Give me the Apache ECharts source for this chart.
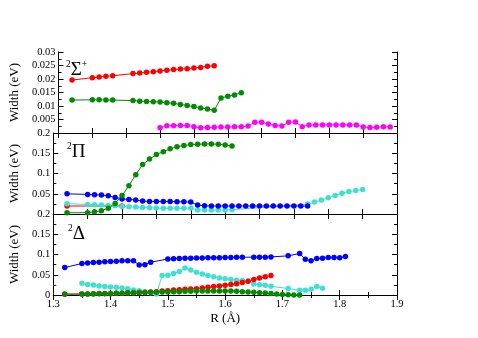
<!DOCTYPE html>
<html>
<head>
<meta charset="utf-8">
<script src="https://cdn.jsdelivr.net/npm/echarts@6/dist/echarts.min.js"></script>
<style>
  html, body { margin: 0; padding: 0; background: #fff; }
  #chart { width: 478px; height: 338px; }
</style>
</head>
<body>
<div id="chart"></div>
<script>
// [R (Å), width (eV)]

// 2Σ+ panel
const sigmaRed = [[1.32,0.0196],[1.35,0.0205],[1.36,0.0207],[1.37,0.021],[1.38,0.0212],[1.41,0.022],[1.42,0.0222],[1.43,0.0225],[1.44,0.0227],[1.45,0.023],[1.46,0.0232],[1.47,0.0235],[1.48,0.0237],[1.49,0.0238],[1.50,0.0241],[1.51,0.0243],[1.52,0.0247],[1.53,0.0249]]
const sigmaGreen = [[1.32,0.0122],[1.35,0.0123],[1.36,0.0123],[1.37,0.0122],[1.38,0.0122],[1.41,0.012],[1.42,0.0118],[1.43,0.0117],[1.44,0.0116],[1.45,0.0115],[1.46,0.0112],[1.47,0.011],[1.48,0.0106],[1.49,0.0102],[1.50,0.0098],[1.51,0.0093],[1.52,0.0089],[1.53,0.0084],[1.54,0.013],[1.55,0.0136],[1.56,0.0141],[1.57,0.0149]]
const sigmaMagenta = [[1.45,0.0019],[1.46,0.0027],[1.47,0.0027],[1.48,0.0028],[1.49,0.0028],[1.50,0.0023],[1.51,0.0019],[1.52,0.002],[1.53,0.0021],[1.54,0.0022],[1.55,0.0022],[1.56,0.0023],[1.57,0.0023],[1.58,0.0026],[1.59,0.004],[1.60,0.004],[1.61,0.0033],[1.62,0.0028],[1.63,0.0026],[1.64,0.004],[1.65,0.0041],[1.66,0.0023],[1.67,0.003],[1.68,0.003],[1.69,0.003],[1.70,0.003],[1.71,0.003],[1.72,0.003],[1.73,0.003],[1.74,0.003],[1.75,0.0022],[1.76,0.002],[1.77,0.0021],[1.78,0.0023],[1.79,0.0022]]

// 2Π panel
const piRed = [[1.32,0.0196],[1.40,0.0196]]
const piBlue = [[1.32,0.0498],[1.35,0.0484],[1.36,0.0475],[1.37,0.0467],[1.38,0.045],[1.39,0.041],[1.40,0.037],[1.41,0.036],[1.42,0.0345],[1.43,0.0318],[1.44,0.031],[1.45,0.031],[1.46,0.031],[1.47,0.031],[1.48,0.0302],[1.49,0.0302],[1.50,0.0294],[1.51,0.022],[1.52,0.0204],[1.53,0.0196],[1.54,0.0196],[1.55,0.0196],[1.56,0.0196],[1.57,0.0196],[1.58,0.0196],[1.59,0.0196],[1.60,0.0196],[1.61,0.0196],[1.62,0.0196],[1.63,0.0196],[1.64,0.0196],[1.65,0.0196],[1.66,0.0196],[1.67,0.0196]]
const piCyan = [[1.32,0.0253],[1.35,0.0237],[1.36,0.0229],[1.37,0.022],[1.38,0.0212],[1.39,0.0204],[1.40,0.0188],[1.41,0.018],[1.42,0.0171],[1.43,0.0163],[1.44,0.0155],[1.45,0.0147],[1.46,0.0139],[1.47,0.0139],[1.48,0.0139],[1.49,0.0139],[1.50,0.0147],[1.51,0.0098],[1.52,0.0098],[1.53,0.0098],[1.54,0.0098],[1.55,0.0098],[1.56,0.0106],[1.67,0.0245],[1.68,0.0294],[1.69,0.0343],[1.70,0.04],[1.71,0.0457],[1.72,0.0514],[1.73,0.0555],[1.74,0.058],[1.75,0.0604]]
const piGreen = [[1.32,0.003],[1.35,0.0033],[1.36,0.0057],[1.37,0.0082],[1.38,0.0145],[1.39,0.026],[1.40,0.0455],[1.41,0.07],[1.42,0.097],[1.43,0.122],[1.44,0.1355],[1.45,0.147],[1.46,0.154],[1.47,0.161],[1.48,0.166],[1.49,0.169],[1.50,0.1714],[1.51,0.1722],[1.52,0.173],[1.53,0.173],[1.54,0.1722],[1.55,0.1706],[1.56,0.168]]

// 2Δ panel
const deltaBlue = [[1.32,0.068],[1.35,0.0777],[1.36,0.0793],[1.37,0.0802],[1.38,0.081],[1.39,0.0818],[1.40,0.0826],[1.41,0.0835],[1.42,0.0843],[1.43,0.0845],[1.44,0.0845],[1.45,0.074],[1.46,0.075],[1.47,0.081],[1.50,0.0888],[1.51,0.0897],[1.52,0.0903],[1.53,0.0905],[1.54,0.091],[1.55,0.0912],[1.56,0.0915],[1.57,0.0918],[1.58,0.092],[1.59,0.0922],[1.60,0.0925],[1.61,0.0928],[1.62,0.093],[1.63,0.0932],[1.65,0.0934],[1.66,0.0934],[1.67,0.0935],[1.68,0.094],[1.71,0.0967],[1.73,0.1025],[1.74,0.0884],[1.75,0.0843],[1.76,0.0901],[1.77,0.0909],[1.78,0.0926],[1.79,0.0926],[1.80,0.0917],[1.81,0.095]]
const deltaCyan = [[1.35,0.029],[1.36,0.026],[1.37,0.0245],[1.38,0.0225],[1.39,0.021],[1.40,0.02],[1.41,0.019],[1.42,0.017],[1.43,0.0155],[1.44,0.0124],[1.45,0.0107],[1.46,0.0083],[1.47,0.0058],[1.48,0.0025],[1.49,0.048],[1.50,0.049],[1.51,0.053],[1.52,0.058],[1.53,0.0665],[1.54,0.062],[1.55,0.056],[1.56,0.052],[1.57,0.048],[1.58,0.045],[1.59,0.042],[1.60,0.04],[1.61,0.038],[1.62,0.0365],[1.63,0.0355],[1.64,0.034],[1.65,0.0273],[1.66,0.0256],[1.67,0.024],[1.68,0.0215],[1.71,0.016],[1.73,0.0115],[1.74,0.0115],[1.75,0.0145],[1.76,0.021],[1.77,0.0165]]
const deltaRed = [[1.32,0.002],[1.35,0.0025],[1.36,0.0025],[1.37,0.003],[1.38,0.0035],[1.39,0.0035],[1.40,0.004],[1.41,0.0045],[1.42,0.0045],[1.43,0.0055],[1.44,0.0055],[1.45,0.0062],[1.46,0.0066],[1.47,0.0074],[1.48,0.0083],[1.49,0.0099],[1.50,0.0107],[1.51,0.0124],[1.52,0.0132],[1.53,0.014],[1.54,0.0149],[1.55,0.0157],[1.56,0.0174],[1.57,0.019],[1.58,0.0207],[1.59,0.0225],[1.60,0.024],[1.61,0.026],[1.62,0.028],[1.63,0.031],[1.64,0.034],[1.65,0.038],[1.66,0.042],[1.67,0.045],[1.68,0.048]]
const deltaGreen = [[1.32,0.0022],[1.35,0.0022],[1.36,0.0025],[1.37,0.0025],[1.38,0.0033],[1.39,0.0033],[1.40,0.0033],[1.41,0.0041],[1.42,0.0041],[1.43,0.005],[1.44,0.005],[1.45,0.0058],[1.46,0.0058],[1.47,0.0066],[1.48,0.0066],[1.49,0.0074],[1.50,0.0074],[1.51,0.0083],[1.52,0.0083],[1.53,0.0091],[1.54,0.0091],[1.55,0.0099],[1.56,0.0099],[1.57,0.0099],[1.58,0.0099],[1.59,0.0099],[1.60,0.0099],[1.61,0.0099],[1.62,0.0091],[1.63,0.0083],[1.64,0.0074],[1.65,0.0066],[1.66,0.0058],[1.67,0.005],[1.68,0.0035],[1.69,0.0025],[1.70,0.001],[1.71,0.0008],[1.72,0.0003],[1.73,0.0002]]

const panelLabels = ['{s|2}{b|Σ}{p|+}', '{s|2}{b|Π}', '{s|2}{b|Δ}']

const serif = 'Liberation Serif'
const RED = '#ff0000', GREEN = '#008b00', BLUE = '#0000ff', CYAN = '#40e0d0', MAGENTA = '#ff00ff'

const chart = echarts.init(document.getElementById('chart'), null, { renderer: 'canvas' })

const grids = [
  { left: 52, width: 345, top: 52, height: 81 },
  { left: 52, width: 345, top: 133, height: 81 },
  { left: 52, width: 345, top: 214, height: 81 }
]

const xTop = { min: 1.3, max: 1.8, interval: 0.05 }
const xBot = { min: 1.3, max: 1.9, interval: 0.1 }

const tickStyle = { show: true, inside: true, length: 5, lineStyle: { color: '#000' } }
const minorStyle = { show: true, splitNumber: 2, length: 3, lineStyle: { color: '#000' } }
const lineStyle = { show: true, lineStyle: { color: '#000', width: 1 } }

function xAxisPair (grid, range, labels) {
  const base = {
    type: 'value', gridIndex: grid, min: range.min, max: range.max, interval: range.interval,
    axisLine: lineStyle, axisTick: tickStyle, splitLine: { show: false },
    minorTick: labels ? minorStyle : { show: false }
  }
  return [
    Object.assign({}, base, {
      position: 'bottom',
      axisLabel: labels
        ? { show: true, fontFamily: serif, fontSize: 10.5, color: '#000', margin: 4 }
        : { show: false },
      name: labels ? 'R (Å)' : '',
      nameLocation: 'middle',
      nameGap: 17,
      nameTextStyle: { fontFamily: serif, fontSize: 13, color: '#000' }
    }),
    Object.assign({}, base, { position: 'top', axisLabel: { show: false } })
  ]
}

function yAxisPair (grid, max, interval, showMin) {
  const base = {
    type: 'value', gridIndex: grid, min: 0, max: max, interval: interval,
    axisLine: lineStyle, axisTick: tickStyle, minorTick: minorStyle, splitLine: { show: false }
  }
  return [
    Object.assign({}, base, {
      position: 'left',
      axisLabel: { show: true, fontFamily: serif, fontSize: 10.5, color: '#000', margin: 3, showMinLabel: showMin },
      name: 'Width (eV)',
      nameLocation: 'middle',
      nameRotate: 90,
      nameGap: 28,
      nameTextStyle: { fontFamily: serif, fontSize: 13, color: '#000' }
    }),
    Object.assign({}, base, { position: 'right', axisLabel: { show: false } })
  ]
}

function line (data, color, xi, yi) {
  return {
    type: 'line', data: data, xAxisIndex: xi, yAxisIndex: yi,
    symbol: 'circle', symbolSize: 5.5, showSymbol: true,
    lineStyle: { color: color, width: 1 },
    itemStyle: { color: color },
    z: 2
  }
}

const richText = {
  s: { fontFamily: serif, fontSize: 9.5, fontWeight: 'normal', color: '#000', verticalAlign: 'top', lineHeight: 22 },
  p: { fontFamily: serif, fontSize: 9.5, fontWeight: 'normal', color: '#000', verticalAlign: 'top', lineHeight: 22 },
  b: { fontFamily: serif, fontSize: 19, fontWeight: 'normal', color: '#000', lineHeight: 22 }
}

const option = {
  animation: false,
  backgroundColor: '#fff',
  title: [
    { text: panelLabels[0], left: 66, top: 59, padding: 0, textStyle: { fontWeight: 'normal', rich: richText } },
    { text: panelLabels[1], left: 67, top: 141, padding: 0, textStyle: { fontWeight: 'normal', rich: richText } },
    { text: panelLabels[2], left: 68, top: 223, padding: 0, textStyle: { fontWeight: 'normal', rich: richText } }
  ],
  grid: grids.map(g => Object.assign({ show: false }, g)),
  xAxis: [
    ...xAxisPair(0, xTop, false),
    ...xAxisPair(1, xTop, false),
    ...xAxisPair(2, xBot, true)
  ],
  yAxis: [
    ...yAxisPair(0, 0.03, 0.005, false),
    ...yAxisPair(1, 0.2, 0.05, false),
    ...yAxisPair(2, 0.2, 0.05, true)
  ],
  series: [
    line(sigmaRed, RED, 0, 0),
    line(sigmaGreen, GREEN, 0, 0),
    line(sigmaMagenta, MAGENTA, 0, 0),

    line(piRed, RED, 2, 2),
    line(piCyan, CYAN, 2, 2),
    line(piBlue, BLUE, 2, 2),
    line(piGreen, GREEN, 2, 2),

    line(deltaBlue, BLUE, 4, 4),
    line(deltaCyan, CYAN, 4, 4),
    line(deltaRed, RED, 4, 4),
    line(deltaGreen, GREEN, 4, 4)
  ]
}

chart.setOption(option)
</script>
</body>
</html>
